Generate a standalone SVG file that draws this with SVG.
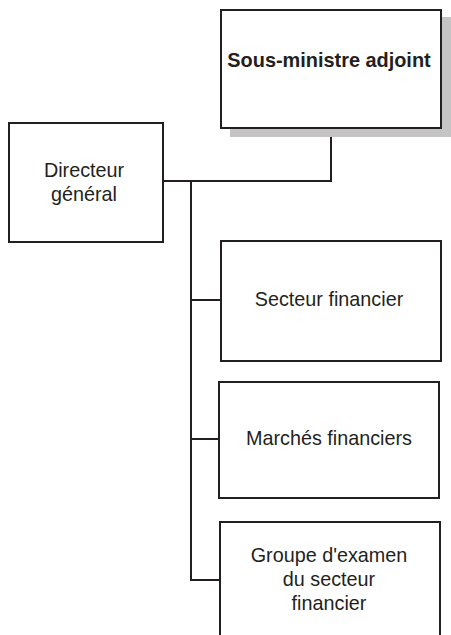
<svg xmlns="http://www.w3.org/2000/svg" width="451" height="635" viewBox="0 0 451 635">
<style>
.box{fill:#fff;stroke:#231f20;stroke-width:2}
.t{font-family:"Liberation Sans",Arial,sans-serif;font-size:19.8px;fill:#231f20;text-anchor:middle}
.b{font-weight:bold;font-size:19.9px}
.c{fill:none;stroke:#231f20;stroke-width:2}
</style>
<rect width="451" height="635" fill="#fff"/>
<g id="connectors">
<path class="c" d="M331 128 V181 H163"/>
<path class="c" d="M191 181 V580 H220"/>
<path class="c" d="M191 300 H221"/>
<path class="c" d="M191 439 H219"/>
</g>
<g id="sous-ministre">
<rect x="230" y="17" width="221" height="120" fill="#c4c4c4"/>
<rect class="box" x="221" y="10" width="220" height="118"/>
<text class="t b" x="329" y="67">Sous-ministre adjoint</text>
</g>
<g id="directeur">
<rect class="box" x="9" y="123" width="154" height="119"/>
<text class="t" x="84" y="177">Directeur</text>
<text class="t" x="84" y="201">général</text>
</g>
<g id="secteur">
<rect class="box" x="221" y="241" width="220" height="120"/>
<text class="t" x="329" y="306">Secteur financier</text>
</g>
<g id="marches">
<rect class="box" x="219" y="382" width="220" height="116"/>
<text class="t" x="329" y="445">Marchés financiers</text>
</g>
<g id="groupe">
<rect class="box" x="220" y="522" width="220" height="125"/>
<text class="t" x="329" y="562">Groupe d'examen</text>
<text class="t" x="329" y="586">du secteur</text>
<text class="t" x="329" y="610">financier</text>
</g>
</svg>
